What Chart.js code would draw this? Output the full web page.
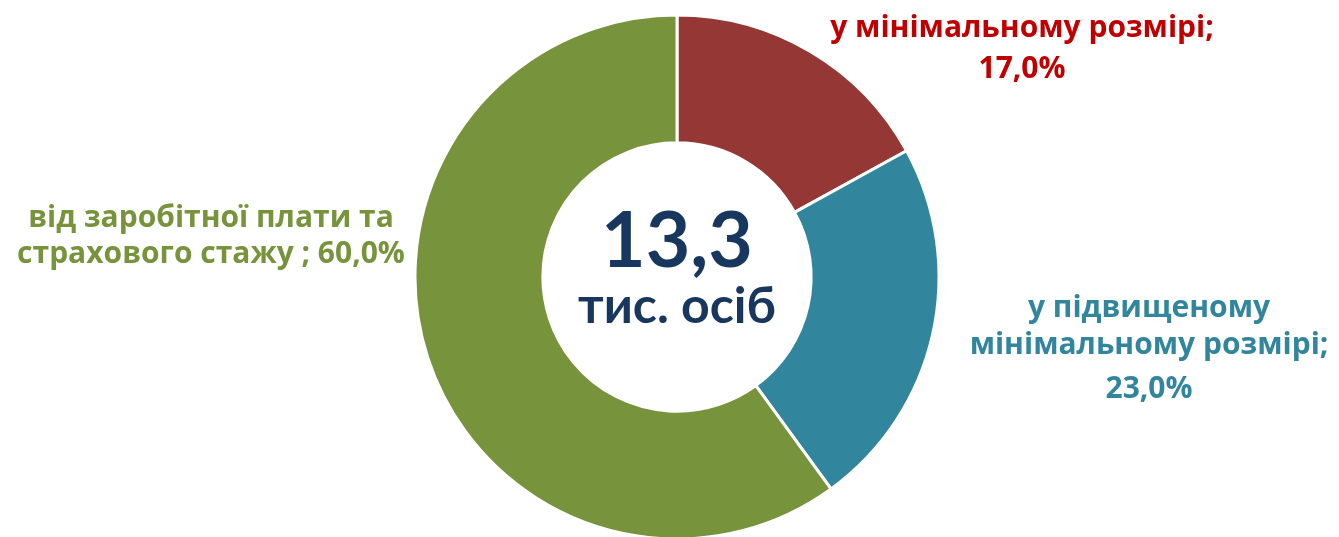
<!DOCTYPE html>
<html>
<head>
<meta charset="utf-8">
<script src="https://cdn.jsdelivr.net/npm/chart.js@4.4.1/dist/chart.umd.min.js"></script>
<style>
  html, body { margin: 0; padding: 0; background: #fff; }
  #wrap { width: 1339px; height: 537px; }
</style>
</head>
<body>
<div id="wrap"><canvas id="Pension" width="1339" height="537"></canvas></div>
<script>
const categories = ["у мінімальному розмірі", "у підвищеному мінімальному розмірі", "від заробітної плати та страхового стажу "];
const shares = [17.0, 23.0, 60.0];
const sliceColors = ["#953735", "#31859C", "#77933C"];
const labelColors = ["#C00000", "#31859C", "#77933C"];
const totalValue = "13,3";
const totalUnit = "тис. осіб";

const fmt = v => v.toFixed(1).replace(".", ",") + "%";

// how each label is broken into lines and where it sits
const labelLayout = [
  { x: 1022, lines: ["у мінімальному розмірі;", fmt(shares[0])], y: [37, 78] },
  { x: 1149, lines: ["у підвищеному", "мінімальному розмірі;", fmt(shares[1])], y: [317, 354, 398] },
  { x: 211, lines: ["від заробітної плати та", "страхового стажу ; " + fmt(shares[2])], y: [227, 263] }
];

const labelPlugin = {
  id: "labels",
  afterDraw(chart) {
    const ctx = chart.ctx;
    const meta = chart.getDatasetMeta(0);
    const cx = meta.data[0].x, cy = meta.data[0].y;
    ctx.save();
    ctx.textAlign = "center";
    ctx.textBaseline = "alphabetic";
    // fit label size so the first red line is as wide as in the original
    ctx.font = "bold 28px 'Open Sans'";
    const w = ctx.measureText(labelLayout[0].lines[0]).width;
    const size = Math.min(30, 28 * 401 / w);
    labelLayout.forEach((lab, i) => {
      ctx.fillStyle = labelColors[i];
      ctx.font = "bold " + size.toFixed(1) + "px 'Open Sans'";
      lab.lines.forEach((t, j) => ctx.fillText(t, lab.x, lab.y[j]));
    });
    ctx.fillStyle = "#17375E";
    ctx.font = "bold 77px Lato";
    ctx.fillText(totalValue, cx, cy - 10);
    ctx.font = "bold 50px Lato";
    ctx.fillText(totalUnit, cx, cy + 46);
    ctx.restore();
  }
};

new Chart(document.getElementById("Pension"), {
  type: "doughnut",
  data: {
    labels: categories,
    datasets: [{
      data: shares,
      backgroundColor: sliceColors,
      borderColor: "#ffffff",
      borderWidth: 3,
      hoverOffset: 0,
      radius: 262,
      cutout: "51.2%"
    }]
  },
  options: {
    responsive: false,
    animation: false,
    events: [],
    layout: { padding: { left: 15, right: 0, top: 17, bottom: 0 } },
    plugins: {
      legend: { display: false },
      tooltip: { enabled: false }
    }
  },
  plugins: [labelPlugin]
});
</script>
</body>
</html>
